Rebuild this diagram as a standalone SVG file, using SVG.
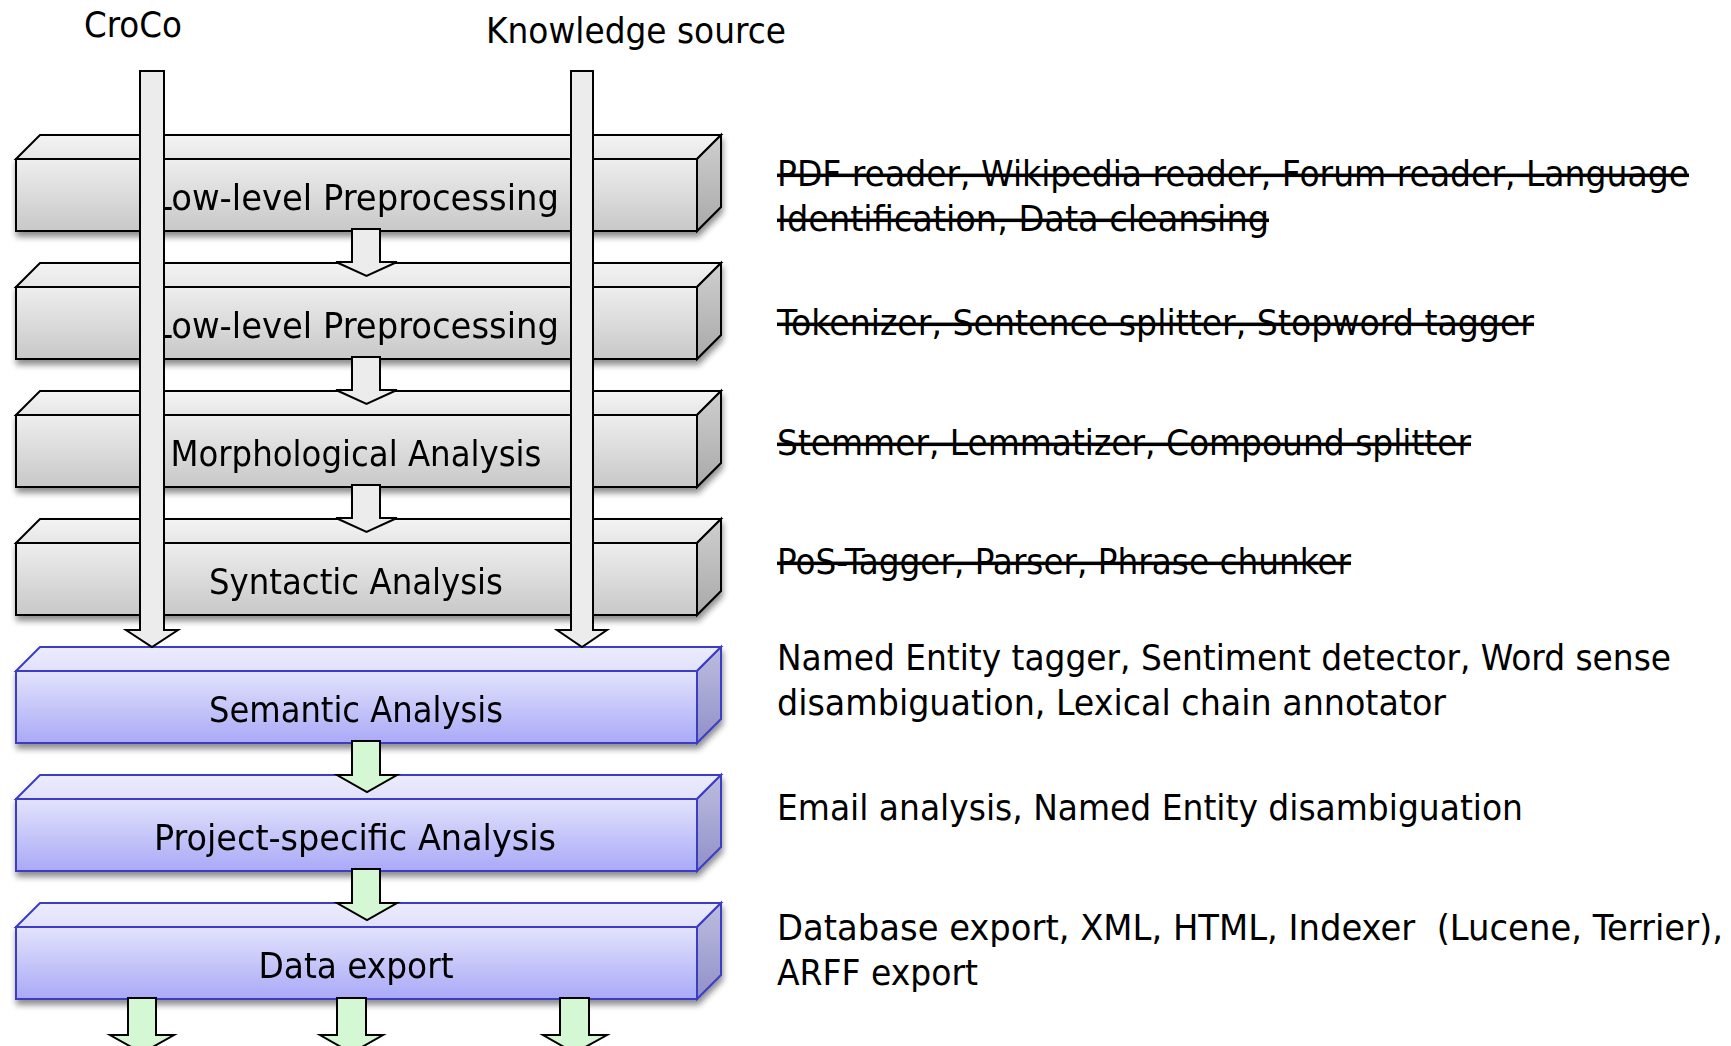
<svg xmlns="http://www.w3.org/2000/svg" width="1731" height="1046" viewBox="0 0 1731 1046">
  <defs>
    <linearGradient id="gFront" x1="0" y1="0" x2="0" y2="1">
      <stop offset="0" stop-color="#eeeeee"/>
      <stop offset="1" stop-color="#c8c8c8"/>
    </linearGradient>
    <linearGradient id="gTop" x1="0" y1="0" x2="0" y2="1">
      <stop offset="0" stop-color="#f4f4f4"/>
      <stop offset="1" stop-color="#e6e6e6"/>
    </linearGradient>
    <linearGradient id="gSide" x1="0" y1="0" x2="0" y2="1">
      <stop offset="0" stop-color="#cfcfcf"/>
      <stop offset="1" stop-color="#a9a9a9"/>
    </linearGradient>
    <linearGradient id="bFront" x1="0" y1="0" x2="0" y2="1">
      <stop offset="0" stop-color="#e3e3fc"/>
      <stop offset="1" stop-color="#a9a9f7"/>
    </linearGradient>
    <linearGradient id="bTop" x1="0" y1="0" x2="0" y2="1">
      <stop offset="0" stop-color="#ececfd"/>
      <stop offset="1" stop-color="#e0e0fb"/>
    </linearGradient>
    <linearGradient id="bSide" x1="0" y1="0" x2="0" y2="1">
      <stop offset="0" stop-color="#bdbde0"/>
      <stop offset="1" stop-color="#9090c8"/>
    </linearGradient>
    <filter id="shadow" x="-5%" y="-20%" width="110%" height="150%">
      <feGaussianBlur in="SourceAlpha" stdDeviation="3"/>
      <feOffset dx="1" dy="5" result="off"/>
      <feComponentTransfer><feFuncA type="linear" slope="0.45"/></feComponentTransfer>
      <feMerge><feMergeNode/><feMergeNode in="SourceGraphic"/></feMerge>
    </filter>
  </defs>
  <style>
    .gray .front { fill: url(#gFront); }
    .gray .top { fill: url(#gTop); }
    .gray .side { fill: url(#gSide); }
    .gray .shape { stroke: #000; stroke-width: 2; }
    .blue .front { fill: url(#bFront); }
    .blue .top { fill: url(#bTop); }
    .blue .side { fill: url(#bSide); }
    .blue .shape { stroke: #3c3cc4; stroke-width: 2; }
    text { font-family: "DejaVu Sans Condensed", "DejaVu Sans", sans-serif; font-stretch: condensed; fill: #000; stroke: none; }
    .lbl { font-size: 36px; text-anchor: middle; }
    .note { font-size: 35px; }
    .del { text-decoration: line-through; }
    .head { font-size: 36px; }
    .arrG { fill: #ececec; stroke: #000; stroke-width: 2; }
    .arrL { fill: #d4f8d4; stroke: #000; stroke-width: 2; }
  </style>

  <!-- stage slabs: front face, top face, right face, label -->
  <g id="stage-lowlevel-1" class="gray" filter="url(#shadow)">
    <rect class="shape front" x="16" y="159" width="681" height="72"/>
    <polygon class="shape top" points="16,159 40,135 721,135 697,159"/>
    <polygon class="shape side" points="697,159 721,135 721,207 697,231"/>
    <text class="lbl" x="356" y="210" textLength="406" lengthAdjust="spacingAndGlyphs">Low-level Preprocessing</text>
  </g>
  <g id="stage-lowlevel-2" class="gray" filter="url(#shadow)">
    <rect class="shape front" x="16" y="287" width="681" height="72"/>
    <polygon class="shape top" points="16,287 40,263 721,263 697,287"/>
    <polygon class="shape side" points="697,287 721,263 721,335 697,359"/>
    <text class="lbl" x="356" y="338" textLength="406" lengthAdjust="spacingAndGlyphs">Low-level Preprocessing</text>
  </g>
  <g id="stage-morphological" class="gray" filter="url(#shadow)">
    <rect class="shape front" x="16" y="415" width="681" height="72"/>
    <polygon class="shape top" points="16,415 40,391 721,391 697,415"/>
    <polygon class="shape side" points="697,415 721,391 721,463 697,487"/>
    <text class="lbl" x="356" y="466" textLength="371" lengthAdjust="spacingAndGlyphs">Morphological Analysis</text>
  </g>
  <g id="stage-syntactic" class="gray" filter="url(#shadow)">
    <rect class="shape front" x="16" y="543" width="681" height="72"/>
    <polygon class="shape top" points="16,543 40,519 721,519 697,543"/>
    <polygon class="shape side" points="697,543 721,519 721,591 697,615"/>
    <text class="lbl" x="356" y="594" textLength="294" lengthAdjust="spacingAndGlyphs">Syntactic Analysis</text>
  </g>
  <g id="stage-semantic" class="blue" filter="url(#shadow)">
    <rect class="shape front" x="16" y="671" width="681" height="72"/>
    <polygon class="shape top" points="16,671 40,647 721,647 697,671"/>
    <polygon class="shape side" points="697,671 721,647 721,719 697,743"/>
    <text class="lbl" x="356" y="722" textLength="294" lengthAdjust="spacingAndGlyphs">Semantic Analysis</text>
  </g>
  <g id="stage-project" class="blue" filter="url(#shadow)">
    <rect class="shape front" x="16" y="799" width="681" height="72"/>
    <polygon class="shape top" points="16,799 40,775 721,775 697,799"/>
    <polygon class="shape side" points="697,799 721,775 721,847 697,871"/>
    <text class="lbl" x="355" y="850" textLength="402" lengthAdjust="spacingAndGlyphs">Project-specific Analysis</text>
  </g>
  <g id="stage-export" class="blue" filter="url(#shadow)">
    <rect class="shape front" x="16" y="927" width="681" height="72"/>
    <polygon class="shape top" points="16,927 40,903 721,903 697,927"/>
    <polygon class="shape side" points="697,927 721,903 721,975 697,999"/>
    <text class="lbl" x="356" y="978" textLength="195" lengthAdjust="spacingAndGlyphs">Data export</text>
  </g>

  <!-- block arrows -->
  <g id="connectors">
    <!-- stage to stage -->
    <polygon class="arrG" points="352,229 380,229 380,262 397,262 366.5,276 336,262 352,262"/>
    <polygon class="arrG" points="352,357 380,357 380,390 397,390 366.5,404 336,390 352,390"/>
    <polygon class="arrG" points="352,485 380,485 380,518 397,518 366.5,532 336,518 352,518"/>
    <polygon class="arrL" points="352,741 380,741 380,775 397,775 367,792 337,775 352,775"/>
    <polygon class="arrL" points="352,869 380,869 380,903 397,903 367,920 337,903 352,903"/>
    <!-- outputs of the export stage -->
    <polygon class="arrL" points="128,998 156,998 156,1035 174,1035 142,1053 110,1035 128,1035"/>
    <polygon class="arrL" points="337,998 366,998 366,1035 383,1035 351.5,1053 320,1035 337,1035"/>
    <polygon class="arrL" points="560,998 589,998 589,1035 607,1035 574.5,1053 543,1035 560,1035"/>
    <!-- sources running down into semantic analysis -->
    <polygon class="arrG" points="140,71 164,71 164,630 178,630 152,647 126,630 140,630"/>
    <polygon class="arrG" points="571,71 593,71 593,630 607,630 582,647 557,630 571,630"/>
  </g>

  <!-- source labels -->
  <text class="head" x="84" y="37" textLength="98" lengthAdjust="spacingAndGlyphs">CroCo</text>
  <text class="head" x="486" y="43" textLength="300" lengthAdjust="spacingAndGlyphs">Knowledge source</text>

  <!-- component notes -->
  <g id="notes">
    <text class="note del" x="777" y="186" textLength="912" lengthAdjust="spacingAndGlyphs">PDF reader, Wikipedia reader, Forum reader, Language</text>
    <text class="note del" x="777" y="231" textLength="492" lengthAdjust="spacingAndGlyphs">Identification, Data cleansing</text>
    <text class="note del" x="777" y="335" textLength="757" lengthAdjust="spacingAndGlyphs">Tokenizer, Sentence splitter, Stopword tagger</text>
    <text class="note del" x="777" y="455" textLength="694" lengthAdjust="spacingAndGlyphs">Stemmer, Lemmatizer, Compound splitter</text>
    <text class="note del" x="777" y="574" textLength="574" lengthAdjust="spacingAndGlyphs">PoS-Tagger, Parser, Phrase chunker</text>
    <text class="note" x="777" y="670" textLength="894" lengthAdjust="spacingAndGlyphs">Named Entity tagger, Sentiment detector, Word sense</text>
    <text class="note" x="777" y="715" textLength="669" lengthAdjust="spacingAndGlyphs">disambiguation, Lexical chain annotator</text>
    <text class="note" x="777" y="820" textLength="746" lengthAdjust="spacingAndGlyphs">Email analysis, Named Entity disambiguation</text>
    <text class="note" x="777" y="940" textLength="946" lengthAdjust="spacingAndGlyphs" xml:space="preserve">Database export, XML, HTML, Indexer  (Lucene, Terrier),</text>
    <text class="note" x="777" y="985" textLength="201" lengthAdjust="spacingAndGlyphs">ARFF export</text>
  </g>
</svg>
